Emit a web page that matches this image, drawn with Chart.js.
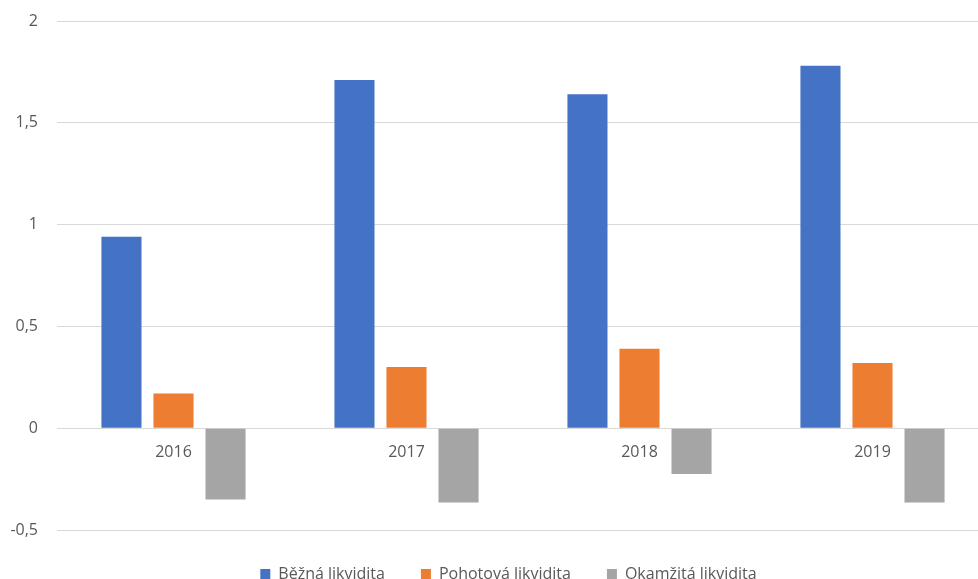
<!DOCTYPE html>
<html>
<head>
<meta charset="utf-8">
<script src="https://cdn.jsdelivr.net/npm/chart.js@4/dist/chart.umd.min.js"></script>
<style>
  html, body { margin: 0; padding: 0; overflow: hidden; background: #fff; }
  .chart-box { position: relative; width: 989px; height: 592px; }
</style>
</head>
<body>
<div class="chart-box"><canvas id="myChart"></canvas></div>
<script>
const years = ['2016', '2017', '2018', '2019'];
const seriesNames = ['Běžná likvidita', 'Pohotová likvidita', 'Okamžitá likvidita'];
const bezna = [0.94, 1.71, 1.64, 1.78];
const pohotova = [0.17, 0.30, 0.39, 0.32];
const okamzita = [-0.35, -0.365, -0.225, -0.365];
const yTicks = [-0.5, 0, 0.5, 1, 1.5, 2];

const colors = ['#4472C4', '#ED7D31', '#A5A5A5'];
const textColor = '#595959';
const font = { family: '"Open Sans", sans-serif', size: 16 };

// legend in the original sits a bit right of the canvas centre
const legendShift = {
  id: 'legendShift',
  afterLayout(chart) {
    chart.legend.left += 10;
    chart.legend.right += 10;
  }
};

const ctx = document.getElementById('myChart');
const myChart = new Chart(ctx, {
  type: 'bar',
  data: {
    labels: years,
    datasets: [bezna, pohotova, okamzita].map((data, i) => ({
      label: seriesNames[i],
      data: data,
      backgroundColor: colors[i],
      borderWidth: 0,
      categoryPercentage: 0.67,
      barPercentage: 0.77
    }))
  },
  plugins: [legendShift],
  options: {
    responsive: true,
    maintainAspectRatio: false,
    animation: false,
    layout: { padding: { left: 8, right: 0, top: 21, bottom: 0 } },
    plugins: {
      tooltip: { enabled: false },
      legend: {
        position: 'bottom',
        labels: {
          color: textColor,
          font: font,
          boxWidth: 10,
          boxHeight: 10,
          padding: 36
        }
      }
    },
    scales: {
      x: {
        position: { y: 0 },
        grid: { display: false, drawTicks: false },
        border: { display: false },
        ticks: { color: textColor, font: font, padding: 15 },
        afterFit: axis => { axis.paddingTop = 0; axis.paddingBottom = 0; }
      },
      y: {
        min: yTicks[0],
        max: yTicks[yTicks.length - 1],
        afterBuildTicks: axis => { axis.ticks = yTicks.map(v => ({ value: v })); },
        afterFit: axis => {
          axis.width = 49;
          axis.paddingTop = 0;
          axis.paddingBottom = 0;
        },
        grid: { color: '#D9D9D9', lineWidth: 1, drawTicks: false },
        border: { display: false },
        ticks: {
          color: textColor,
          font: font,
          padding: 19,
          callback: v => String(v).replace('.', ',')
        }
      }
    }
  }
});
</script>
</body>
</html>
